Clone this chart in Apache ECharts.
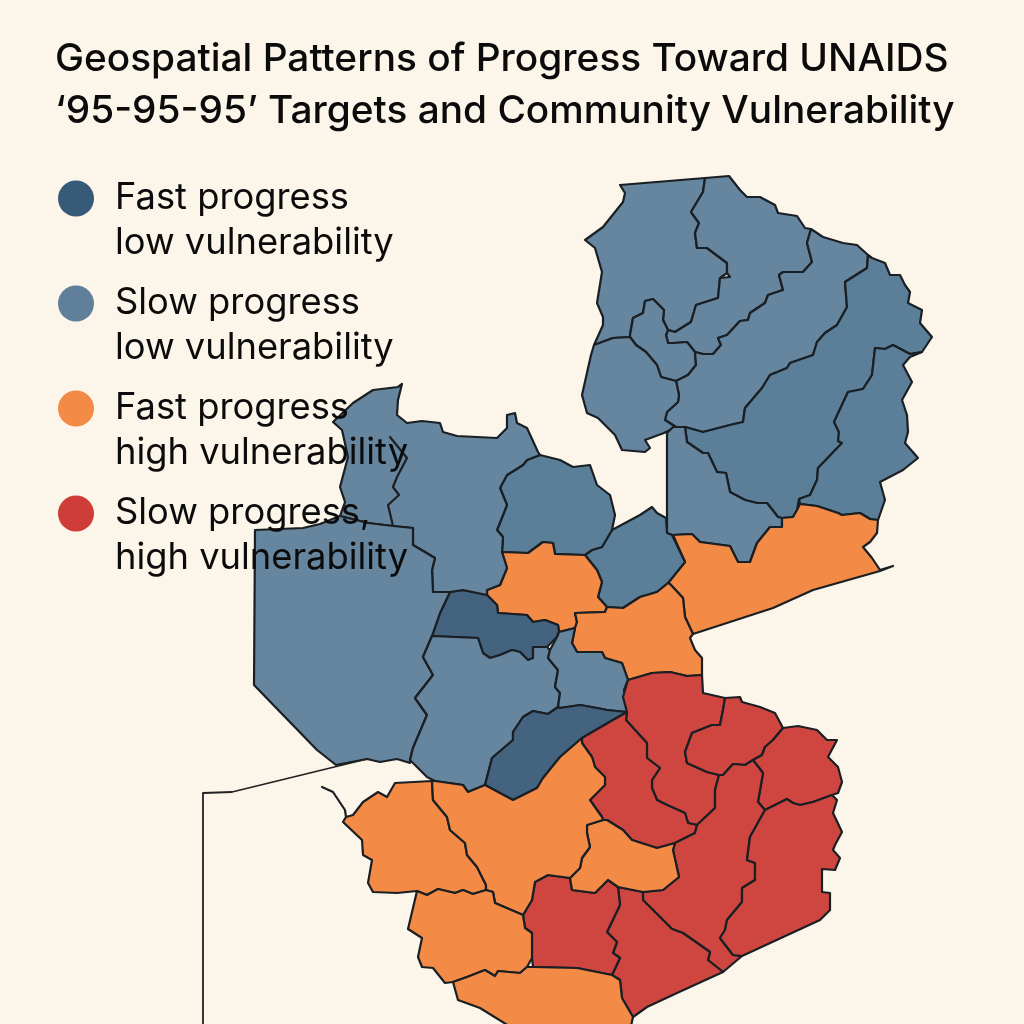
<!DOCTYPE html>
<html>
<head>
<meta charset="utf-8">
<style>html,body{margin:0;padding:0;background:#fcf5ea}#c{width:1024px;height:1024px}</style>
<script src="https://cdn.jsdelivr.net/npm/echarts@6/dist/echarts.min.js"></script>
</head>
<body>
<div id="c"></div>
<script>
const titleText = "Geospatial Patterns of Progress Toward UNAIDS\n‘95-95-95’ Targets and Community Vulnerability";
const categories = ["Fast progress\nlow vulnerability","Slow progress\nlow vulnerability","Fast progress\nhigh vulnerability","Slow progress,\nhigh vulnerability"];
const legendColors = ["#375a78","#5f7f9a","#f38a45","#cf3d38"];
const regionColors = ["#43637e","#66859f","#f38a45","#cf4640"];
const deeperBlueRegions = ["N6","N7","C2","C1"];
const deeperBlue = "#5b7f99";

const fastLowRegions = ["C3","C7"];
const slowLowRegions = ["N1","N2","N3","N4","N5","N6","N7","N8","C1","C2","W12","W3","C5","C6"];
const fastHighRegions = ["E1","O1","O2","O3","O4","O5","O6","O7"];
const slowHighRegions = ["RA","RB","RC","RD","RE","RF","RG","RH"];

const N1=[[620,185],[705,178],[703,192],[691,212],[699,223],[695,233],[697,248],[707,248],[727,263],[727,273],[720,278],[718,298],[696,305],[691,322],[675,332],[668,330],[663,320],[664,310],[653,299],[645,301],[643,313],[633,318],[630,335],[630,337],[613,338],[594,345],[603,325],[603,317],[597,303],[602,272],[595,248],[585,240],[603,227],[623,202],[625,193]];
const N2=[[705,178],[729,176],[740,190],[747,197],[760,197],[775,205],[778,213],[797,216],[805,228],[811,229],[807,243],[812,262],[803,272],[783,272],[779,275],[783,290],[768,295],[765,303],[750,313],[748,320],[740,321],[727,335],[718,338],[721,345],[713,354],[703,354],[695,352],[687,342],[674,343],[668,343],[666,335],[668,330],[675,332],[691,322],[696,305],[718,298],[720,278],[730,277],[727,273],[727,263],[707,248],[697,248],[695,233],[699,223],[691,212],[703,192]];
const N3=[[668,330],[666,335],[668,343],[674,343],[687,342],[695,352],[696,365],[688,375],[676,381],[661,377],[657,365],[646,352],[636,345],[630,337],[630,335],[633,318],[643,313],[645,301],[653,299],[664,310],[663,320]];
const N4=[[811,229],[823,237],[843,243],[857,245],[868,255],[867,268],[845,282],[847,307],[837,325],[825,333],[817,342],[813,355],[790,363],[787,368],[770,375],[762,388],[745,408],[743,422],[730,425],[703,432],[685,427],[676,427],[665,420],[667,412],[678,402],[679,395],[676,381],[688,375],[696,365],[695,352],[703,354],[713,354],[721,345],[718,338],[727,335],[740,321],[748,320],[750,313],[765,303],[768,295],[783,290],[779,275],[783,272],[803,272],[812,262],[807,243]];
const N5=[[594,345],[613,338],[630,337],[636,345],[646,352],[657,365],[661,377],[676,381],[679,395],[678,402],[667,412],[665,420],[676,427],[664,433],[645,440],[650,448],[645,452],[622,450],[615,435],[598,418],[587,413],[582,395],[591,355]];
const N6=[[868,255],[872,258],[885,263],[890,275],[900,275],[905,285],[910,292],[908,303],[922,310],[920,323],[932,337],[922,352],[910,354],[893,345],[885,349],[875,348],[872,375],[863,389],[848,392],[834,422],[839,432],[838,441],[842,443],[818,468],[817,480],[810,495],[799,499],[797,510],[793,517],[782,518],[778,517],[767,503],[757,503],[745,500],[730,492],[726,473],[717,472],[708,453],[703,453],[687,442],[685,427],[703,432],[730,425],[743,422],[745,408],[762,388],[770,375],[787,368],[790,363],[813,355],[817,342],[825,333],[837,325],[847,307],[845,282],[867,268]];
const N7=[[875,348],[885,349],[893,345],[910,354],[922,352],[910,357],[903,365],[912,382],[902,400],[907,415],[908,432],[905,443],[918,458],[903,470],[880,482],[885,500],[878,520],[870,519],[860,513],[842,515],[838,513],[817,506],[800,504],[799,499],[810,495],[817,480],[818,468],[842,443],[838,441],[839,432],[834,422],[848,392],[863,389],[872,375]];
const N8=[[667,433],[673,427],[685,427],[687,442],[703,453],[708,453],[717,472],[726,473],[730,492],[745,500],[757,503],[767,503],[778,517],[782,518],[782,527],[770,527],[757,543],[750,562],[738,562],[730,546],[700,542],[692,534],[672,535],[667,533]];
const E1=[[672,535],[692,534],[700,542],[730,546],[738,562],[750,562],[757,543],[770,527],[782,527],[782,518],[793,517],[797,510],[800,504],[817,506],[838,513],[842,515],[860,513],[870,519],[878,520],[877,533],[870,542],[863,547],[872,558],[880,570],[893,566],[880,571],[813,590],[773,608],[693,634],[685,617],[683,598],[670,584],[668,583],[685,562],[673,535]];
const C1=[[612,530],[640,515],[652,507],[657,513],[666,518],[667,533],[672,535],[685,562],[668,583],[657,592],[640,597],[623,608],[607,607],[598,597],[602,582],[597,570],[585,555],[592,550],[602,547]];
const C2=[[540,455],[560,460],[573,467],[590,465],[597,485],[610,495],[615,515],[612,530],[602,547],[592,550],[585,555],[555,554],[553,543],[543,542],[528,553],[502,552],[503,537],[497,530],[507,505],[500,488],[507,475],[523,465],[527,460]];
const O1=[[502,552],[528,553],[543,542],[553,543],[555,554],[585,555],[597,570],[602,582],[598,597],[607,607],[605,612],[575,613],[577,622],[575,628],[559,632],[558,625],[545,620],[533,622],[527,615],[498,613],[497,605],[487,595],[487,590],[500,585],[507,568]];
const O2=[[575,613],[605,612],[607,607],[623,608],[640,597],[657,592],[668,583],[670,584],[683,598],[685,617],[693,634],[690,638],[695,650],[702,658],[702,675],[687,676],[670,672],[652,673],[628,680],[622,663],[605,658],[602,652],[577,652],[572,643],[575,628],[577,622]];
const C3=[[450,592],[440,613],[432,636],[478,638],[483,653],[490,658],[500,655],[512,650],[520,652],[528,660],[533,658],[533,647],[547,647],[557,637],[559,632],[558,625],[545,620],[533,622],[527,615],[498,613],[497,605],[487,595],[463,590]];
const W12=[[402,384],[398,400],[397,415],[407,423],[422,421],[440,423],[443,432],[457,436],[497,438],[507,428],[507,415],[515,413],[517,423],[527,428],[538,452],[540,455],[527,460],[523,465],[507,475],[500,488],[507,505],[497,530],[503,537],[502,552],[507,568],[500,585],[487,590],[487,595],[463,590],[450,592],[433,592],[432,570],[435,558],[413,545],[413,528],[393,526],[388,505],[399,495],[393,487],[397,477],[407,458],[390,437],[407,458],[397,477],[393,487],[399,495],[388,505],[393,526],[368,523],[340,516],[345,502],[340,487],[348,457],[342,430],[333,422],[353,403],[373,390],[398,387]];
const W3=[[255,530],[303,528],[320,524],[340,516],[368,523],[393,526],[413,528],[413,545],[435,558],[432,570],[433,592],[450,592],[440,613],[432,636],[423,657],[433,675],[415,698],[427,715],[413,748],[410,760],[410,763],[397,759],[380,762],[367,759],[336,765],[317,750],[254,685]];
const C5=[[432,636],[478,638],[483,653],[490,658],[500,655],[512,650],[520,652],[528,660],[533,658],[533,647],[547,647],[550,650],[548,658],[558,670],[555,687],[560,693],[558,707],[548,714],[533,711],[523,717],[513,732],[513,740],[492,758],[485,785],[468,792],[463,785],[435,781],[427,777],[410,760],[413,748],[427,715],[415,698],[433,675],[423,657]];
const C6=[[559,632],[575,628],[572,643],[577,652],[602,652],[605,658],[622,663],[628,680],[624,690],[627,712],[607,710],[597,708],[580,705],[560,708],[558,707],[560,693],[555,687],[558,670],[548,658],[550,650],[557,637]];
const C7=[[558,707],[560,708],[580,705],[597,708],[607,710],[627,712],[613,720],[582,738],[560,757],[543,778],[537,788],[513,800],[485,785],[492,758],[513,740],[513,732],[523,717],[533,711],[548,714]];
const RA=[[628,680],[652,673],[670,672],[687,676],[702,675],[703,693],[725,698],[723,710],[720,725],[712,725],[692,733],[685,752],[687,763],[707,772],[719,775],[715,790],[715,808],[697,825],[688,823],[685,813],[667,805],[657,800],[652,788],[652,780],[660,768],[647,758],[647,743],[635,730],[626,720],[627,712],[623,697]];
const RB=[[725,698],[740,697],[742,702],[760,707],[775,713],[783,728],[773,740],[765,747],[762,755],[753,760],[745,765],[733,764],[723,775],[719,775],[707,772],[687,763],[685,752],[692,733],[712,725],[720,725],[723,710]];
const RC=[[627,712],[626,720],[635,730],[647,743],[647,758],[660,768],[652,780],[652,788],[657,800],[667,805],[685,813],[688,823],[697,825],[695,833],[675,843],[668,845],[657,848],[632,840],[623,830],[607,820],[603,820],[602,817],[590,800],[605,785],[605,777],[595,767],[592,757],[582,743],[582,738],[613,720]];
const RD=[[783,728],[798,726],[817,730],[827,740],[837,740],[828,757],[838,767],[842,782],[838,793],[832,795],[813,802],[800,805],[793,803],[787,799],[765,810],[758,802],[763,773],[753,760],[762,755],[765,747],[773,740]];
const RE=[[697,825],[715,808],[715,790],[719,775],[723,775],[733,764],[745,765],[753,760],[763,773],[758,802],[765,810],[750,837],[747,860],[755,863],[755,880],[742,888],[742,902],[727,920],[725,930],[720,938],[733,955],[742,956],[723,972],[708,960],[710,952],[683,933],[672,929],[643,900],[643,892],[663,890],[679,877],[673,850],[675,843],[695,833]];
const RG=[[765,810],[787,799],[793,803],[800,805],[813,802],[832,795],[837,800],[833,813],[842,832],[835,845],[833,850],[840,858],[835,870],[822,869],[822,892],[830,893],[830,910],[820,920],[742,956],[733,955],[720,938],[725,930],[727,920],[742,902],[742,888],[755,880],[755,863],[747,860],[750,837]];
const RF=[[618,887],[643,892],[643,900],[672,929],[683,933],[710,952],[708,960],[723,972],[677,993],[647,1007],[633,1017],[622,998],[620,980],[612,975],[620,958],[613,953],[617,942],[607,932],[620,905]];
const RH=[[548,875],[570,878],[572,890],[595,893],[608,880],[618,887],[620,905],[607,932],[617,942],[613,953],[620,958],[612,975],[577,968],[533,967],[532,958],[532,933],[525,928],[523,915],[532,900],[535,882]];
const O3=[[432,781],[395,783],[387,797],[378,792],[363,802],[353,815],[346,817],[345,810],[333,792],[322,787],[333,792],[345,810],[346,817],[343,822],[362,840],[363,855],[372,860],[368,883],[373,892],[397,893],[417,891],[427,895],[438,889],[455,893],[463,890],[473,894],[486,890],[486,885],[477,867],[467,855],[465,843],[450,830],[447,817],[433,800]];
const O4=[[587,825],[603,820],[607,820],[623,830],[632,840],[657,848],[668,845],[675,843],[673,850],[679,877],[663,890],[643,892],[618,887],[608,880],[595,893],[572,890],[570,878],[580,868],[582,858],[590,847],[587,833]];
const O5=[[432,781],[435,781],[463,785],[468,792],[485,785],[513,800],[537,788],[543,778],[560,757],[582,738],[582,743],[592,757],[595,767],[605,777],[605,785],[590,800],[602,817],[603,820],[587,825],[587,833],[590,847],[582,858],[580,868],[570,878],[548,875],[535,882],[532,900],[523,915],[495,903],[493,892],[486,890],[486,885],[477,867],[467,855],[465,843],[450,830],[447,817],[433,800]];
const O6=[[417,891],[427,895],[438,889],[455,893],[463,890],[473,894],[486,890],[493,892],[495,903],[523,915],[525,928],[532,933],[532,958],[527,967],[520,973],[498,971],[495,976],[485,970],[467,977],[453,982],[445,983],[433,968],[422,967],[418,957],[422,938],[408,929]];
const O7=[[453,982],[467,977],[485,970],[495,976],[498,971],[520,973],[527,967],[533,967],[577,968],[612,975],[620,980],[622,998],[633,1017],[631,1026],[509,1026],[480,1008],[458,1000]];
const frameLine=[[203,1026],[203,793],[232,792],[367,759],[232,792],[203,793]];

const shapes = {N1,N2,N3,N4,N5,N6,N7,N8,E1,C1,C2,O1,O2,C3,W12,W3,C5,C6,C7,RA,RB,RC,RD,RE,RG,RF,RH,O3,O4,O5,O6,O7,frameLine};
const ring = pts => { const r = pts.map(p => [p[0], -p[1]]); r.push(r[0]); return [r]; };
const geoJson = {type:"FeatureCollection",features:Object.keys(shapes).map(k => ({type:"Feature",properties:{name:k},geometry:{type:"Polygon",coordinates:ring(shapes[k])}}))};
echarts.registerMap("zones", geoJson);

const classes = [fastLowRegions, slowLowRegions, fastHighRegions, slowHighRegions];
const regionStyles = [{name:"frameLine",itemStyle:{areaColor:"rgba(0,0,0,0)",borderColor:"#222",borderWidth:1.8}}];
classes.forEach((names,i)=>names.forEach(n=>regionStyles.push({name:n,itemStyle:{areaColor:deeperBlueRegions.includes(n)?deeperBlue:regionColors[i]}})));

const chart = echarts.init(document.getElementById("c"), null, {renderer:"canvas"});
chart.setOption({
  animation:false,
  backgroundColor:"#fcf5ea",
  title:{text:titleText,left:55,top:33,padding:0,z:20,textStyle:{fontFamily:"Inter",fontWeight:500,fontSize:38.8,lineHeight:52,color:"#0b0b0b"}},
  legend:{orient:"vertical",left:58,top:131,padding:0,itemGap:-30,itemWidth:36,itemHeight:36,icon:"circle",selectedMode:false,z:20,
    data:categories,
    formatter:n=>"\n"+n,
    textStyle:{fontFamily:"Inter",fontWeight:400,fontSize:36.3,lineHeight:45,color:"#0b0b0b",padding:[0,0,0,16]}},
  geo:{map:"zones",left:0,top:0,right:0,bottom:0,aspectScale:1,silent:true,roam:false,
    boundingCoords:[[0,0],[1024,-1024]],
    itemStyle:{borderColor:"#1a1f24",borderWidth:2.2,areaColor:"#66859f",borderJoin:"round"},
    regions:regionStyles},
  series:categories.map((c,i)=>({name:c,type:"scatter",coordinateSystem:"geo",data:[],itemStyle:{color:legendColors[i],opacity:1}}))
});
</script>
</body>
</html>
